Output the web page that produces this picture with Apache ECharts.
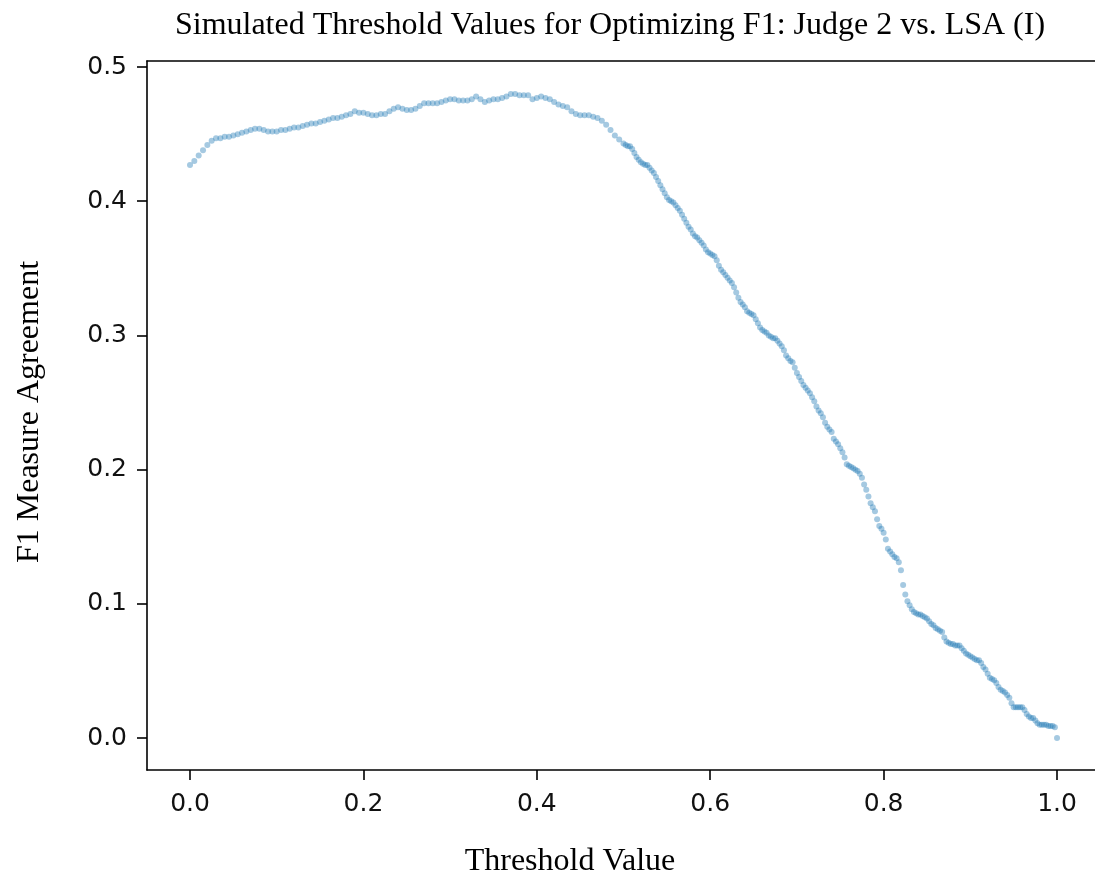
<!DOCTYPE html>
<html>
<head>
<meta charset="utf-8">
<title>Simulated Threshold Values for Optimizing F1</title>
<script src="https://cdn.jsdelivr.net/npm/echarts@6/dist/echarts.min.js"></script>
<style>
  html, body { margin: 0; padding: 0; background: #fff; overflow: hidden; }
  #chart { width: 1095px; height: 880px; }
</style>
</head>
<body>
<div id="chart"></div>
<script>
// Threshold sweep, coarse part (0.000 .. 0.495, step 0.005)
const thresholdsLow = [
  0.000,0.005,0.010,0.015,0.020,0.025,0.030,0.035,0.040,0.045,
  0.050,0.055,0.060,0.065,0.070,0.075,0.080,0.085,0.090,0.095,
  0.100,0.105,0.110,0.115,0.120,0.125,0.130,0.135,0.140,0.145,
  0.150,0.155,0.160,0.165,0.170,0.175,0.180,0.185,0.190,0.195,
  0.200,0.205,0.210,0.215,0.220,0.225,0.230,0.235,0.240,0.245,
  0.250,0.255,0.260,0.265,0.270,0.275,0.280,0.285,0.290,0.295,
  0.300,0.305,0.310,0.315,0.320,0.325,0.330,0.335,0.340,0.345,
  0.350,0.355,0.360,0.365,0.370,0.375,0.380,0.385,0.390,0.395,
  0.400,0.405,0.410,0.415,0.420,0.425,0.430,0.435,0.440,0.445,
  0.450,0.455,0.460,0.465,0.470,0.475,0.480,0.485,0.490,0.495
];
const f1Low = [
  0.427,0.430,0.434,0.438,0.442,0.445,0.447,0.447,0.448,0.448,
  0.449,0.450,0.451,0.452,0.453,0.454,0.454,0.453,0.452,0.452,
  0.452,0.453,0.453,0.454,0.455,0.455,0.456,0.457,0.458,0.458,
  0.459,0.460,0.461,0.462,0.462,0.463,0.464,0.465,0.467,0.466,
  0.466,0.465,0.464,0.464,0.465,0.465,0.467,0.469,0.470,0.469,
  0.468,0.468,0.469,0.471,0.473,0.473,0.473,0.473,0.474,0.475,
  0.476,0.476,0.475,0.475,0.475,0.476,0.478,0.476,0.474,0.475,
  0.476,0.476,0.477,0.478,0.480,0.480,0.479,0.479,0.479,0.476,
  0.477,0.478,0.477,0.476,0.474,0.472,0.471,0.470,0.467,0.465,
  0.464,0.464,0.464,0.463,0.462,0.460,0.457,0.453,0.449,0.446
];

// Threshold sweep, fine part (0.5000 .. 1.0000, step 0.0025)
const thresholdsHigh = [
  0.5000,0.5025,0.5050,0.5075,0.5100,0.5125,0.5150,0.5175,0.5200,0.5225,0.5250,0.5275,0.5300,0.5325,0.5350,0.5375,0.5400,0.5425,0.5450,0.5475,
  0.5500,0.5525,0.5550,0.5575,0.5600,0.5625,0.5650,0.5675,0.5700,0.5725,0.5750,0.5775,0.5800,0.5825,0.5850,0.5875,0.5900,0.5925,0.5950,0.5975,
  0.6000,0.6025,0.6050,0.6075,0.6100,0.6125,0.6150,0.6175,0.6200,0.6225,0.6250,0.6275,0.6300,0.6325,0.6350,0.6375,0.6400,0.6425,0.6450,0.6475,
  0.6500,0.6525,0.6550,0.6575,0.6600,0.6625,0.6650,0.6675,0.6700,0.6725,0.6750,0.6775,0.6800,0.6825,0.6850,0.6875,0.6900,0.6925,0.6950,0.6975,
  0.7000,0.7025,0.7050,0.7075,0.7100,0.7125,0.7150,0.7175,0.7200,0.7225,0.7250,0.7275,0.7300,0.7325,0.7350,0.7375,0.7400,0.7425,0.7450,0.7475,
  0.7500,0.7525,0.7550,0.7575,0.7600,0.7625,0.7650,0.7675,0.7700,0.7725,0.7750,0.7775,0.7800,0.7825,0.7850,0.7875,0.7900,0.7925,0.7950,0.7975,
  0.8000,0.8025,0.8050,0.8075,0.8100,0.8125,0.8150,0.8175,0.8200,0.8225,0.8250,0.8275,0.8300,0.8325,0.8350,0.8375,0.8400,0.8425,0.8450,0.8475,
  0.8500,0.8525,0.8550,0.8575,0.8600,0.8625,0.8650,0.8675,0.8700,0.8725,0.8750,0.8775,0.8800,0.8825,0.8850,0.8875,0.8900,0.8925,0.8950,0.8975,
  0.9000,0.9025,0.9050,0.9075,0.9100,0.9125,0.9150,0.9175,0.9200,0.9225,0.9250,0.9275,0.9300,0.9325,0.9350,0.9375,0.9400,0.9425,0.9450,0.9475,
  0.9500,0.9525,0.9550,0.9575,0.9600,0.9625,0.9650,0.9675,0.9700,0.9725,0.9750,0.9775,0.9800,0.9825,0.9850,0.9875,0.9900,0.9925,0.9950,0.9975,
  1.0000
];
const f1High = [
  0.443,0.442,0.441,0.441,0.439,0.436,0.433,0.431,0.429,0.428,0.427,0.427,0.425,0.423,0.421,0.418,0.415,0.412,0.409,0.406,
  0.403,0.401,0.400,0.399,0.397,0.395,0.393,0.390,0.387,0.384,0.381,0.379,0.376,0.374,0.373,0.371,0.369,0.367,0.364,0.362,
  0.361,0.360,0.359,0.356,0.352,0.349,0.347,0.345,0.343,0.341,0.339,0.336,0.332,0.328,0.325,0.323,0.321,0.318,0.317,0.316,
  0.315,0.312,0.309,0.306,0.304,0.303,0.302,0.300,0.299,0.298,0.298,0.296,0.294,0.292,0.289,0.285,0.283,0.281,0.280,0.276,
  0.272,0.269,0.266,0.263,0.261,0.259,0.257,0.254,0.251,0.247,0.244,0.242,0.239,0.235,0.232,0.230,0.228,0.223,0.221,0.219,
  0.216,0.213,0.209,0.204,0.203,0.202,0.201,0.200,0.199,0.197,0.194,0.189,0.185,0.180,0.175,0.172,0.169,0.163,0.158,0.156,
  0.153,0.148,0.141,0.139,0.137,0.135,0.134,0.131,0.125,0.114,0.107,0.102,0.099,0.096,0.094,0.093,0.092,0.092,0.091,0.090,
  0.089,0.087,0.085,0.084,0.082,0.081,0.080,0.079,0.075,0.072,0.071,0.070,0.070,0.069,0.069,0.069,0.067,0.065,0.063,0.062,
  0.061,0.060,0.059,0.058,0.058,0.056,0.053,0.051,0.048,0.045,0.044,0.043,0.041,0.038,0.036,0.035,0.034,0.032,0.030,0.026,
  0.023,0.023,0.023,0.023,0.023,0.021,0.018,0.016,0.015,0.015,0.013,0.011,0.010,0.010,0.010,0.010,0.009,0.009,0.009,0.008,
  0.000
];

// Tick labels
const xTicks = [0.0, 0.2, 0.4, 0.6, 0.8, 1.0];
const yTicks = [0.0, 0.1, 0.2, 0.3, 0.4, 0.5];

const titleText = 'Simulated Threshold Values for Optimizing F1: Judge 2 vs. LSA (I)';
const xLabel = 'Threshold Value';
const yLabel = 'F1 Measure Agreement';

const thresholds = thresholdsLow.concat(thresholdsHigh);
const f1 = f1Low.concat(f1High);
const points = thresholds.map((t, i) => [t, f1[i]]);

const chart = echarts.init(document.getElementById('chart'), null, { renderer: 'canvas' });

const serif = '"Liberation Serif", "Times New Roman", serif';
const sans = '"DejaVu Sans", sans-serif';
const axisColor = '#000';
const spine = { color: axisColor, width: 1.6 };

// x range: the plot box runs past the right edge of the page
const xMin = -0.0496, xMax = 1.0438;
const yMin = -0.0238, yMax = 0.5045;

chart.setOption({
  animation: false,
  backgroundColor: '#fff',
  grid: { left: 147, top: 61, right: 0, bottom: 110, show: false, containLabel: false },
  xAxis: [
    {
      type: 'value', min: xMin, max: xMax,
      splitLine: { show: false },
      axisLine: { show: true, onZero: false, lineStyle: spine },
      axisTick: { show: true, length: 10, customValues: xTicks, lineStyle: spine },
      axisLabel: {
        customValues: xTicks, margin: 22,
        fontFamily: sans, fontSize: 25, color: '#111',
        formatter: v => v.toFixed(1)
      }
    },
    {
      // top spine
      type: 'value', position: 'top', min: xMin, max: xMax,
      splitLine: { show: false },
      axisLine: { show: true, onZero: false, lineStyle: spine },
      axisTick: { show: false }, axisLabel: { show: false }
    }
  ],
  yAxis: {
    type: 'value', min: yMin, max: yMax,
    splitLine: { show: false },
    axisLine: { show: true, onZero: false, lineStyle: spine },
    axisTick: { show: true, length: 10, customValues: yTicks, lineStyle: spine },
    axisLabel: {
      customValues: yTicks, margin: 20,
      fontFamily: sans, fontSize: 25, color: '#111',
      formatter: v => v.toFixed(1)
    }
  },
  series: [{
    type: 'scatter',
    xAxisIndex: 0,
    data: points,
    symbol: 'circle',
    symbolSize: 6,
    itemStyle: { color: 'rgba(31,119,180,0.5)' },
    emphasis: { disabled: true }
  }],
  graphic: [
    {
      type: 'text', x: 610, y: 26,
      style: {
        text: titleText, font: '32px ' + serif, fill: '#000',
        align: 'center', verticalAlign: 'middle',
        textAlign: 'center', textVerticalAlign: 'middle'
      }
    },
    {
      type: 'text', x: 570, y: 862,
      style: {
        text: xLabel, font: '32px ' + serif, fill: '#000',
        align: 'center', verticalAlign: 'middle',
        textAlign: 'center', textVerticalAlign: 'middle'
      }
    },
    {
      type: 'text', x: 30, y: 412, rotation: Math.PI / 2,
      style: {
        text: yLabel, font: '32px ' + serif, fill: '#000',
        align: 'center', verticalAlign: 'middle',
        textAlign: 'center', textVerticalAlign: 'middle'
      }
    }
  ]
});
</script>
</body>
</html>
